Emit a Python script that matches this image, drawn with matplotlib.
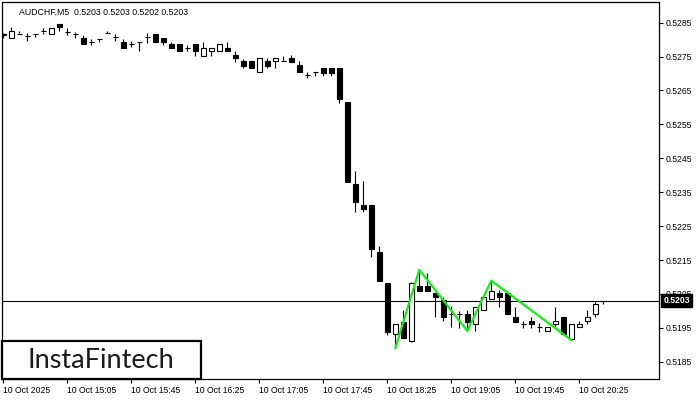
import numpy as np
import pandas as pd
import matplotlib
matplotlib.use("Agg")
import matplotlib.pyplot as plt
from matplotlib.patches import Rectangle

# AUDCHF M5 candles, 14:25 .. 20:40 on 10 Oct 2025
opens = [0.52815, 0.52804, 0.52819, 0.52812, 0.52818, 0.52823, 0.52816, 0.52845, 0.52823, 0.52816,
         0.52804, 0.52794, 0.52802, 0.52819, 0.52807, 0.52794, 0.52787, 0.52794, 0.52807, 0.52817,
         0.52804, 0.52787, 0.52787, 0.52775, 0.52787, 0.52753, 0.52767, 0.52767, 0.52775, 0.52755,
         0.52737, 0.52737, 0.52704, 0.52737, 0.52737, 0.52737, 0.52745, 0.52725, 0.52696, 0.52705,
         0.52716, 0.52716, 0.52716, 0.52615, 0.52374, 0.52312, 0.52312, 0.52173, 0.52081, 0.51931,
         0.51968, 0.51911, 0.52073, 0.52073, 0.52054, 0.52032, 0.51991, 0.51991, 0.51991, 0.51961,
         0.52003, 0.52034, 0.52054, 0.52054, 0.51981, 0.51961, 0.51970, 0.51953, 0.51941, 0.51960,
         0.51981, 0.51916, 0.51952, 0.51970, 0.51990, 0.52030]
highs = [0.52819, 0.52838, 0.52826, 0.52819, 0.52818, 0.52833, 0.52835, 0.52846, 0.52833, 0.52823,
         0.52814, 0.52802, 0.52802, 0.52826, 0.52817, 0.52801, 0.52796, 0.52794, 0.52819, 0.52817,
         0.52804, 0.52794, 0.52787, 0.52784, 0.52787, 0.52794, 0.52775, 0.52787, 0.52794, 0.52765,
         0.52742, 0.52737, 0.52745, 0.52745, 0.52745, 0.52752, 0.52755, 0.52737, 0.52705, 0.52705,
         0.52716, 0.52716, 0.52716, 0.52615, 0.52413, 0.52383, 0.52312, 0.52191, 0.52081, 0.51960,
         0.52003, 0.52085, 0.52121, 0.52111, 0.52054, 0.52042, 0.52014, 0.52000, 0.52003, 0.52011,
         0.52040, 0.52089, 0.52062, 0.52054, 0.52011, 0.51971, 0.51981, 0.51965, 0.51952, 0.52011,
         0.51981, 0.51960, 0.51970, 0.52003, 0.52029, 0.52030]
lows = [0.52805, 0.52804, 0.52819, 0.52797, 0.52807, 0.52816, 0.52816, 0.52826, 0.52814, 0.52806,
        0.52786, 0.52784, 0.52794, 0.52819, 0.52797, 0.52775, 0.52778, 0.52765, 0.52791, 0.52794,
        0.52784, 0.52775, 0.52765, 0.52765, 0.52753, 0.52753, 0.52753, 0.52767, 0.52765, 0.52735,
        0.52716, 0.52716, 0.52704, 0.52716, 0.52716, 0.52737, 0.52735, 0.52704, 0.52686, 0.52694,
        0.52694, 0.52694, 0.52614, 0.52381, 0.52293, 0.52293, 0.52160, 0.52089, 0.51929, 0.51890,
        0.51919, 0.51908, 0.52059, 0.52059, 0.51981, 0.51971, 0.51953, 0.51949, 0.51941, 0.51941,
        0.52003, 0.52034, 0.52011, 0.51990, 0.51968, 0.51950, 0.51950, 0.51939, 0.51941, 0.51950,
        0.51932, 0.51914, 0.51952, 0.51960, 0.51981, 0.52020]
closes = [0.52817, 0.52826, 0.52818, 0.52812, 0.52818, 0.52824, 0.52835, 0.52836, 0.52823, 0.52816,
          0.52786, 0.52794, 0.52802, 0.52819, 0.52807, 0.52775, 0.52787, 0.52794, 0.52807, 0.52794,
          0.52792, 0.52775, 0.52765, 0.52775, 0.52765, 0.52775, 0.52775, 0.52787, 0.52765, 0.52745,
          0.52723, 0.52716, 0.52745, 0.52723, 0.52745, 0.52737, 0.52735, 0.52704, 0.52696, 0.52705,
          0.52703, 0.52703, 0.52624, 0.52381, 0.52322, 0.52300, 0.52182, 0.52089, 0.51939, 0.51960,
          0.51919, 0.52081, 0.52059, 0.52059, 0.52040, 0.51981, 0.51991, 0.51991, 0.51968, 0.52011,
          0.52040, 0.52059, 0.52040, 0.51990, 0.51968, 0.51961, 0.51960, 0.51953, 0.51952, 0.51970,
          0.51932, 0.51960, 0.51960, 0.51981, 0.52019, 0.52030]

start_time = "2025-10-10 14:25"
tick_labels = ["10 Oct 2025", "10 Oct 15:05", "10 Oct 15:45", "10 Oct 16:25", "10 Oct 17:05",
               "10 Oct 17:45", "10 Oct 18:25", "10 Oct 19:05", "10 Oct 19:45", "10 Oct 20:25"]
tick_times = ["14:25", "15:05", "15:45", "16:25", "17:05", "17:45", "18:25", "19:05", "19:45", "20:25"]
price_ticks = [0.5185, 0.5195, 0.5205, 0.5215, 0.5225, 0.5235, 0.5245, 0.5255, 0.5265, 0.5275, 0.5285]
last_price = 0.5203
title = "AUDCHF,M5  0.5203 0.5203 0.5202 0.5203"

# pattern pivots: (bar, which price)
pattern_bars = [49, 52, 58, 61, 71]
pattern_kind = ["low", "high", "low", "high", "low"]

plt.rcParams["font.family"] = ["Liberation Sans", "DejaVu Sans"]

times = pd.date_range(start_time, periods=len(opens), freq="5min")
hhmm = [t.strftime("%H:%M") for t in times]

fig = plt.figure(figsize=(7, 4), dpi=100)
ax = fig.add_axes([2 / 700, 1 - 379 / 400, 657 / 700, 377 / 400])
ax.set_xlim(-0.16, 81.96)
ax.set_ylim(0.51799, 0.52911)

bw = 0.62
lw = 0.8
for i, (o, h, l, c) in enumerate(zip(opens, highs, lows, closes)):
    top, bot = max(o, c), min(o, c)
    if h > top:
        ax.vlines(i, top, h, color="black", lw=lw, zorder=3)
    if l < bot:
        ax.vlines(i, l, bot, color="black", lw=lw, zorder=3)
    if top - bot < 0.00002:
        ax.hlines(c, i - bw / 2, i + bw / 2, color="black", lw=lw, zorder=3)
    else:
        ax.add_patch(Rectangle((i - bw / 2, bot), bw, top - bot,
                               facecolor="black" if c < o else "white",
                               edgecolor="black", lw=lw, zorder=3))

px = pattern_bars
py = [lows[b] if k == "low" else highs[b] for b, k in zip(pattern_bars, pattern_kind)]
ax.plot(px, py, color="#11ee11", lw=1.6, zorder=4)

ax.axhline(last_price, color="black", lw=0.8, zorder=2)

ax.yaxis.tick_right()
ax.set_yticks(price_ticks)
ax.set_yticklabels([f"{p:.4f}" for p in price_ticks])
xt = [hhmm.index(t) for t in tick_times]
ax.set_xticks(xt)
ax.set_xticklabels(tick_labels, ha="left")
ax.tick_params(axis="both", direction="out", length=3, width=0.8, labelsize=6.2, colors="black")
ax.tick_params(axis="x", pad=2)
ax.tick_params(axis="y", pad=2)
for s in ax.spines.values():
    s.set_linewidth(0.9)

# current price marker on the price scale
ax.annotate(f"{last_price:.4f}", xy=(1.0, last_price), xycoords=("axes fraction", "data"),
            xytext=(3, 0), textcoords="offset points", ha="left", va="center",
            fontsize=6.2, color="white", fontweight="bold",
            bbox=dict(boxstyle="square,pad=0.25", facecolor="black", edgecolor="black"),
            zorder=10, annotation_clip=False)

ax.text(0.026, 0.985, title, transform=ax.transAxes, ha="left", va="top", fontsize=6.3)

# logo box
ax.add_patch(Rectangle((0, 0), 199 / 657, 38 / 377, transform=ax.transAxes,
                       facecolor="white", edgecolor="black", lw=1.6, zorder=8, clip_on=False))
ax.text(99 / 657, 18 / 377, "InstaFintech", transform=ax.transAxes, ha="center", va="center",
        fontsize=19.5, family=["Lato", "DejaVu Sans"], color="#1a1a1a", zorder=9)

fig.savefig("out.png", dpi=100)
